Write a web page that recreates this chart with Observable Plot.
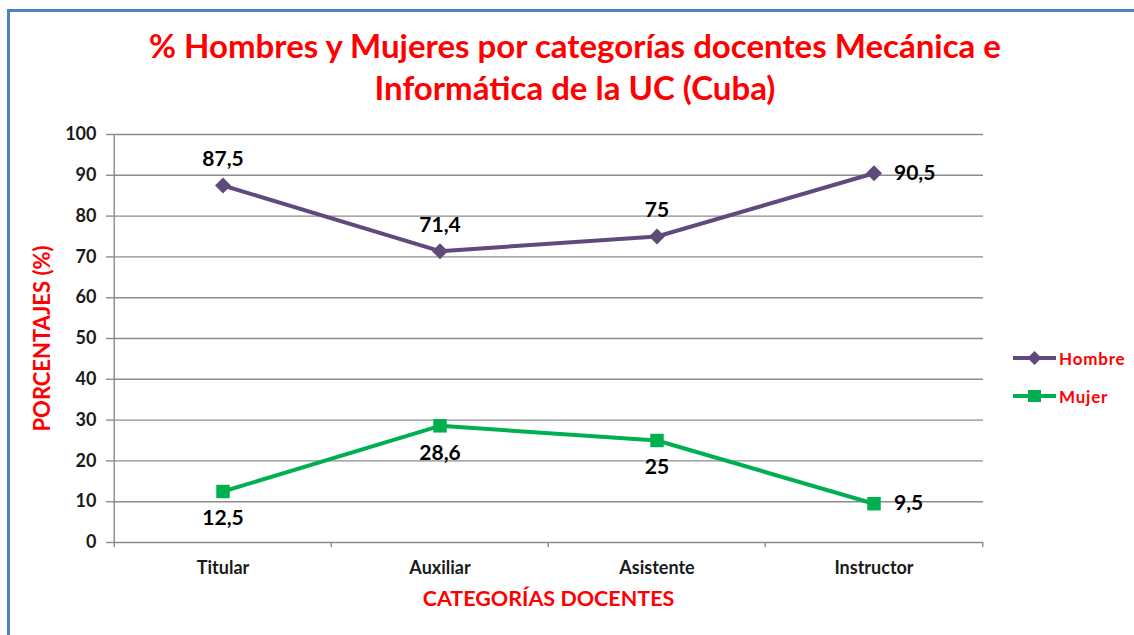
<!DOCTYPE html>
<html>
<head>
<meta charset="utf-8">
<script src="https://cdn.jsdelivr.net/npm/d3@7"></script>
<script src="https://cdn.jsdelivr.net/npm/@observablehq/plot@0.6"></script>
<style>
  html, body { margin: 0; padding: 0; background: #fff; width: 1134px; height: 635px; overflow: hidden; position: relative; }
  #frame { position: absolute; left: 7px; top: 9px; width: 1200px; height: 700px; border-left: 3px solid #4F81BD; border-top: 3px solid #4F81BD; pointer-events: none; z-index: 5; }
  #title { position: absolute; left: 0; top: 0; width: 1150px; padding-top: 24px; text-align: center; color: #ff0000; font-family: Lato, "Liberation Sans", sans-serif; font-weight: bold; font-size: 33px; line-height: 42px; }
  #chart { position: absolute; left: 0; top: 110px; }
  #legend { position: absolute; left: 1013px; top: 346px; font-family: Lato, "Liberation Sans", sans-serif; font-weight: bold; font-size: 17px; letter-spacing: 0.8px; color: #ff0000; }
  .item { display: flex; align-items: center; height: 24px; margin-bottom: 14px; }
  .item svg { display: block; margin-right: 3px; }
</style>
</head>
<body>
<div id="title">% Hombres y Mujeres por categorías docentes Mecánica e<br>Informática de la UC (Cuba)</div>
<div id="chart"></div>
<div id="legend"></div>
<div id="frame"></div>
<script>
const categories = ["Titular", "Auxiliar", "Asistente", "Instructor"];
const hombre = [87.5, 71.4, 75, 90.5];
const mujer = [12.5, 28.6, 25, 9.5];
const seriesNames = ["Hombre", "Mujer"];
const yTicks = [0, 10, 20, 30, 40, 50, 60, 70, 80, 90, 100];

const colors = {Hombre: "#604A7B", Mujer: "#00B050"};
const fmt = v => String(v).replace(".", ",");

const W = 1134, H = 525, mL = 113, mR = 151, mT = 24, mB = 93;
const bandHalf = (W - mL - mR) / categories.length / 2;

const rows = [];
categories.forEach((c, i) => {
  rows.push({cat: c, serie: "Hombre", value: hombre[i], i});
  rows.push({cat: c, serie: "Mujer", value: mujer[i], i});
});
const H_rows = rows.filter(d => d.serie === "Hombre");
const M_rows = rows.filter(d => d.serie === "Mujer");
const last = categories.length - 1;

const font = "Lato, 'Liberation Sans', sans-serif";
const gridColor = "#8c8c8c";

const chart = Plot.plot({
  width: W, height: H,
  marginLeft: mL, marginRight: mR, marginTop: mT, marginBottom: mB,
  style: {background: "transparent", fontFamily: font, overflow: "visible"},
  x: {type: "band", domain: categories, padding: 0, label: null},
  y: {domain: [0, 100], label: null},
  marks: [
    Plot.gridY(yTicks, {stroke: gridColor, strokeOpacity: 1, strokeWidth: 1.4}),
    Plot.axisY(yTicks, {tickSize: 7, tickPadding: 10, stroke: gridColor, strokeWidth: 1.4, fill: "#1a1a1a", fontSize: 18, fontWeight: "bold", label: null}),
    Plot.ruleX([categories[0]], {dx: -bandHalf, y1: 100, y2: 0, insetBottom: -5, stroke: gridColor, strokeWidth: 1.4}),
    Plot.ruleX(categories.slice(1), {dx: -bandHalf, y1: 0, y2: 0, insetBottom: -5, stroke: gridColor, strokeWidth: 1.4}),
    Plot.ruleX([categories[last]], {dx: bandHalf, y1: 0, y2: 0, insetBottom: -5, stroke: gridColor, strokeWidth: 1.4}),
    Plot.axisX({tickSize: 0, tickPadding: 19, fill: "#1a1a1a", fontSize: 18, fontWeight: "bold", label: null}),
    Plot.text(["PORCENTAJES (%)"], {frameAnchor: "left", textAnchor: "middle", rotate: -90, dx: -71, fill: "#ff0000", fontSize: 22, fontWeight: "bold"}),
    Plot.text(["CATEGORÍAS DOCENTES"], {frameAnchor: "bottom", textAnchor: "middle", dy: 63, fill: "#ff0000", fontSize: 21.5, fontWeight: "bold"}),
    Plot.line(H_rows, {x: "cat", y: "value", stroke: colors.Hombre, strokeWidth: 4}),
    Plot.line(M_rows, {x: "cat", y: "value", stroke: colors.Mujer, strokeWidth: 4}),
    Plot.dot(H_rows, {x: "cat", y: "value", symbol: "diamond2", r: 7.2, fill: colors.Hombre, stroke: "none"}),
    Plot.dot(M_rows, {x: "cat", y: "value", symbol: "square", r: 7.6, fill: colors.Mujer, stroke: "none"}),
    Plot.text(H_rows.filter(d => d.i !== last), {x: "cat", y: "value", text: d => fmt(d.value), dy: -26, fill: "#000", fontSize: 21, fontWeight: "bold"}),
    Plot.text(M_rows.filter(d => d.i !== last), {x: "cat", y: "value", text: d => fmt(d.value), dy: 27, fill: "#000", fontSize: 21, fontWeight: "bold"}),
    Plot.text(rows.filter(d => d.i === last), {x: "cat", y: "value", text: d => fmt(d.value), dx: 20, textAnchor: "start", fill: "#000", fontSize: 21, fontWeight: "bold"})
  ]
});
document.getElementById("chart").appendChild(chart);

// legend
const legend = d3.select("#legend");
seriesNames.forEach(name => {
  const item = legend.append("div").attr("class", "item");
  const svg = item.append("svg").attr("width", 43).attr("height", 16);
  svg.append("line").attr("x1", 0).attr("x2", 43).attr("y1", 8).attr("y2", 8)
     .attr("stroke", colors[name]).attr("stroke-width", 4);
  if (name === "Hombre") {
    svg.append("path").attr("d", "M21.5,1 L28.5,8 L21.5,15 L14.5,8 Z").attr("fill", colors[name]);
  } else {
    svg.append("rect").attr("x", 15).attr("y", 2).attr("width", 13).attr("height", 12).attr("fill", colors[name]);
  }
  item.append("span").text(name);
});
</script>
</body>
</html>
